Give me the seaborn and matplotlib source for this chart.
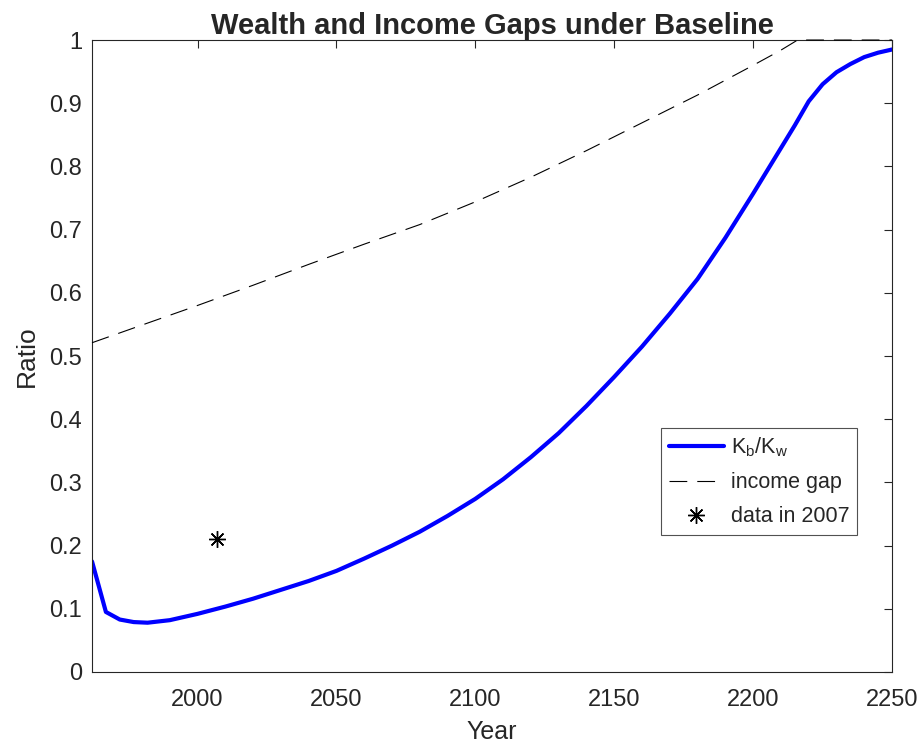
import pandas as pd
import matplotlib
matplotlib.use("Agg")
import matplotlib.pyplot as plt
import seaborn as sns
from matplotlib.ticker import FuncFormatter

# wealth ratio K_b/K_w
years_k = [1962, 1967, 1972, 1977, 1982, 1990, 2000, 2010, 2020, 2030, 2040,
           2050, 2060, 2070, 2080, 2090, 2100, 2110, 2120, 2130, 2140, 2150,
           2160, 2170, 2180, 2190, 2200, 2210, 2215, 2220, 2225, 2230, 2235,
           2240, 2245, 2250]
wealth_ratio = [0.175, 0.095, 0.083, 0.079, 0.078, 0.082, 0.092, 0.1035, 0.116,
                0.130, 0.144, 0.160, 0.1795, 0.200, 0.222, 0.247, 0.274, 0.305,
                0.340, 0.378, 0.421, 0.467, 0.515, 0.567, 0.622, 0.687, 0.757,
                0.829, 0.865, 0.903, 0.930, 0.949, 0.962, 0.973, 0.980, 0.985]

# income gap
years_inc = [1962, 1980, 2000, 2020, 2040, 2060, 2080, 2100, 2120, 2140, 2160,
             2180, 2200, 2210, 2216, 2230, 2250]
income_gap = [0.521, 0.549, 0.580, 0.612, 0.645, 0.677, 0.708, 0.744, 0.783,
              0.825, 0.869, 0.913, 0.960, 0.984, 1.0, 1.0, 1.0]

# observed point
data_year = [2007]
data_value = [0.211]

x_ticks = [2000, 2050, 2100, 2150, 2200, 2250]
y_ticks = [0, 0.1, 0.2, 0.3, 0.4, 0.5, 0.6, 0.7, 0.8, 0.9, 1]

df_k = pd.DataFrame({"Year": years_k, "Ratio": wealth_ratio})
df_inc = pd.DataFrame({"Year": years_inc, "Ratio": income_gap})
df_pt = pd.DataFrame({"Year": data_year, "Ratio": data_value})

sns.set_theme(style="white")
plt.rcParams["font.family"] = ["Liberation Sans", "DejaVu Sans"]
plt.rcParams["mathtext.fontset"] = "custom"
plt.rcParams["mathtext.rm"] = "Liberation Sans"

fig = plt.figure(figsize=(9.22, 7.51), dpi=100)
ax = fig.add_axes([0.0998, 0.1052, 0.8677, 0.8415])

sns.lineplot(data=df_k, x="Year", y="Ratio", color="#0000ff", linewidth=3.0,
             label=r"$\mathregular{K_b/K_w}$", ax=ax)
sns.lineplot(data=df_inc, x="Year", y="Ratio", color="black", linewidth=0.8,
             linestyle=(0, (16, 9)), label="income gap", ax=ax,
             clip_on=False, zorder=3)
sns.lineplot(data=df_pt, x="Year", y="Ratio", color="black", linestyle="none",
             marker=(8, 2, 0), markersize=12, markeredgewidth=1.0,
             markeredgecolor="black", label="data in 2007", ax=ax)

ax.set_xlim(1962, 2250)
ax.set_ylim(0, 1)
ax.set_xticks(x_ticks)
ax.set_yticks(y_ticks)
ax.yaxis.set_major_formatter(FuncFormatter(lambda v, p: f"{v:g}"))

ax.tick_params(axis="both", which="major", direction="in", length=6,
               width=0.8, color="#262626", labelsize=17, labelcolor="#262626",
               top=True, right=True)
ax.tick_params(axis="x", pad=12)
ax.tick_params(axis="y", pad=7)
for s in ax.spines.values():
    s.set_color("#262626")
    s.set_linewidth(0.8)

ax.set_title("Wealth and Income Gaps under Baseline", fontsize=21,
             fontweight="bold", pad=4)
ax.set_xlabel("Year", fontsize=18, color="#262626", labelpad=7)
ax.set_ylabel("Ratio", fontsize=19, color="#262626", labelpad=7.5)

leg = ax.legend(loc="lower right", bbox_to_anchor=(0.956, 0.217),
                fontsize=15.5, frameon=True, fancybox=False,
                edgecolor="#262626", handlelength=2.55, borderpad=0.35,
                labelspacing=0.6, handletextpad=0.33, borderaxespad=0)
leg.get_frame().set_linewidth(0.8)

fig.savefig("out.png", dpi=100, facecolor="white")
